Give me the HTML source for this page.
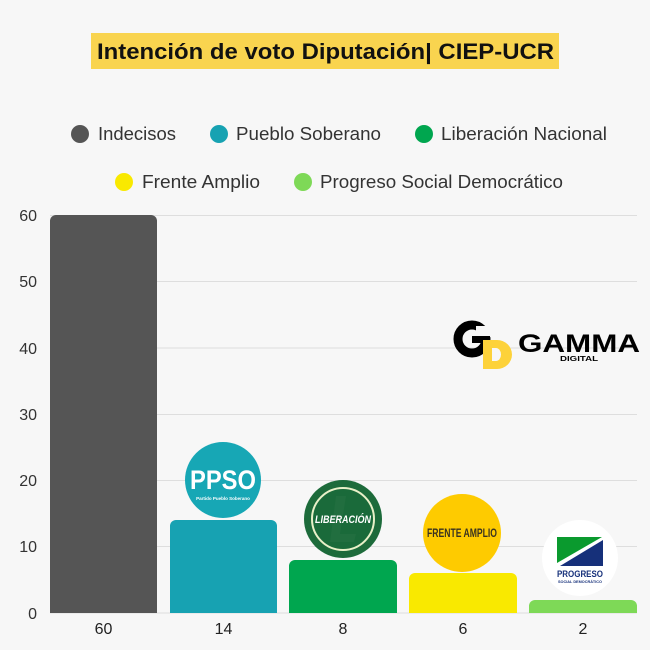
<!DOCTYPE html>
<html><head><meta charset="utf-8"><style>
html,body{margin:0;padding:0;background:#f7f7f7;}
svg{display:block;font-family:"Liberation Sans",sans-serif;}
</style></head><body>
<svg width="650" height="650" viewBox="0 0 650 650" xmlns="http://www.w3.org/2000/svg">
<rect width="650" height="650" fill="#f7f7f7"/>
<!-- title -->
<rect x="91" y="33" width="468" height="36" fill="#f9d44f"/>
<text x="97" y="59" font-size="22" font-weight="bold" fill="#111" textLength="457" lengthAdjust="spacingAndGlyphs">Intención de voto Diputación| CIEP-UCR</text>
<!-- legend -->
<g font-size="18" fill="#333">
<circle cx="80" cy="134" r="9" fill="#555555"/>
<text x="98" y="140" textLength="78" lengthAdjust="spacingAndGlyphs">Indecisos</text>
<circle cx="219" cy="134" r="9" fill="#17a2b2"/>
<text x="236" y="140" textLength="145" lengthAdjust="spacingAndGlyphs">Pueblo Soberano</text>
<circle cx="424" cy="134" r="9" fill="#00a64f"/>
<text x="441" y="140" textLength="166" lengthAdjust="spacingAndGlyphs">Liberación Nacional</text>
<circle cx="124" cy="182" r="9" fill="#f9e900"/>
<text x="142" y="188" textLength="118" lengthAdjust="spacingAndGlyphs">Frente Amplio</text>
<circle cx="303" cy="182" r="9" fill="#7ed957"/>
<text x="320" y="188" textLength="243" lengthAdjust="spacingAndGlyphs">Progreso Social Democrático</text>
</g>
<!-- grid -->
<g stroke="#dedede" stroke-width="1">
<line x1="50" x2="637" y1="215.5" y2="215.5"/>
<line x1="50" x2="637" y1="281.5" y2="281.5"/>
<line x1="50" x2="637" y1="348" y2="348"/>
<line x1="50" x2="637" y1="414.5" y2="414.5"/>
<line x1="50" x2="637" y1="480.5" y2="480.5"/>
<line x1="50" x2="637" y1="546.5" y2="546.5"/>
<line x1="50" x2="637" y1="613" y2="613"/>
</g>
<!-- y labels -->
<g font-size="16" fill="#333" text-anchor="end">
<text x="37" y="221">60</text>
<text x="37" y="287">50</text>
<text x="37" y="354">40</text>
<text x="37" y="420">30</text>
<text x="37" y="486">20</text>
<text x="37" y="552">10</text>
<text x="37" y="619">0</text>
</g>
<!-- bars -->
<path d="M50 613 V221 a6 6 0 0 1 6 -6 H151 a6 6 0 0 1 6 6 V613 Z" fill="#555555"/>
<path d="M170 613 V526 a6 6 0 0 1 6 -6 H271 a6 6 0 0 1 6 6 V613 Z" fill="#17a2b2"/>
<path d="M289 613 V566 a6 6 0 0 1 6 -6 H391 a6 6 0 0 1 6 6 V613 Z" fill="#00a64f"/>
<path d="M409 613 V579 a6 6 0 0 1 6 -6 H511 a6 6 0 0 1 6 6 V613 Z" fill="#f9e900"/>
<path d="M529 613 V606 a6 6 0 0 1 6 -6 H631 a6 6 0 0 1 6 6 V613 Z" fill="#7ed957"/>
<!-- x labels -->
<g font-size="16" fill="#222" text-anchor="middle">
<text x="103.5" y="634">60</text>
<text x="223.5" y="634">14</text>
<text x="343" y="634">8</text>
<text x="463" y="634">6</text>
<text x="583" y="634">2</text>
</g>
<!-- PPSO logo -->
<circle cx="223" cy="480" r="38" fill="#17a7b5"/>
<text x="223" y="489" font-size="27" font-weight="bold" fill="#fff" text-anchor="middle" textLength="66" lengthAdjust="spacingAndGlyphs">PPSO</text>
<text x="223" y="500" font-size="4.5" font-weight="bold" fill="#fff" text-anchor="middle">Partido Pueblo Soberano</text>
<!-- Liberacion logo -->
<circle cx="343" cy="519" r="39" fill="#1d6b3b"/>
<circle cx="343" cy="519" r="31" fill="#1a6a3a" stroke="#e8f0c8" stroke-width="2"/>
<path d="M336 496 L346 496 L340 534 L356 534 L354 542 L330 542 Z" fill="#216e3f"/>
<text x="343" y="523" font-size="11" font-weight="bold" font-style="italic" fill="#fff" text-anchor="middle" textLength="56" lengthAdjust="spacingAndGlyphs">LIBERACIÓN</text>
<!-- Frente Amplio logo -->
<circle cx="462" cy="533" r="39" fill="#fecb00"/>
<text x="462" y="537" font-size="12" font-weight="bold" fill="#3a3320" text-anchor="middle" textLength="70" lengthAdjust="spacingAndGlyphs">FRENTE AMPLIO</text>
<!-- Progreso logo -->
<circle cx="580" cy="558" r="38" fill="#ffffff"/>
<polygon points="557,537 602,537 557,563" fill="#0a9a2e"/>
<polygon points="603,540 603,566 560,566" fill="#16307a"/>
<text x="580" y="577" font-size="9" font-weight="bold" fill="#16307a" text-anchor="middle" textLength="46" lengthAdjust="spacingAndGlyphs">PROGRESO</text>
<text x="580" y="583" font-size="3.8" font-weight="bold" fill="#16307a" text-anchor="middle">SOCIAL DEMOCRÁTICO</text>
<!-- Gamma Digital logo -->
<path d="M489 330 A14 14 0 1 0 489 348 L489 339 L475 339" fill="none" stroke="#000" stroke-width="0"/>
<circle cx="472" cy="339" r="14" fill="none" stroke="#000" stroke-width="9"/>
<rect x="476" y="326" width="16" height="11" fill="#f7f7f7"/>
<rect x="472" y="336" width="18" height="7" fill="#000"/>
<path d="M483 340 H497 a15 14.5 0 0 1 0 29 H483 Z" fill="#fdd23a"/>
<path d="M492 348 H496 a5 6.5 0 0 1 0 13 H492 Z" fill="#f7f7f7"/>
<text x="518" y="352" font-size="25" font-weight="900" fill="#000" textLength="122" lengthAdjust="spacingAndGlyphs" style="font-weight:bold">GAMMA</text>
<text x="560" y="361" font-size="7" font-weight="bold" fill="#000" textLength="38" lengthAdjust="spacingAndGlyphs">DIGITAL</text>
</svg>
</body></html>
